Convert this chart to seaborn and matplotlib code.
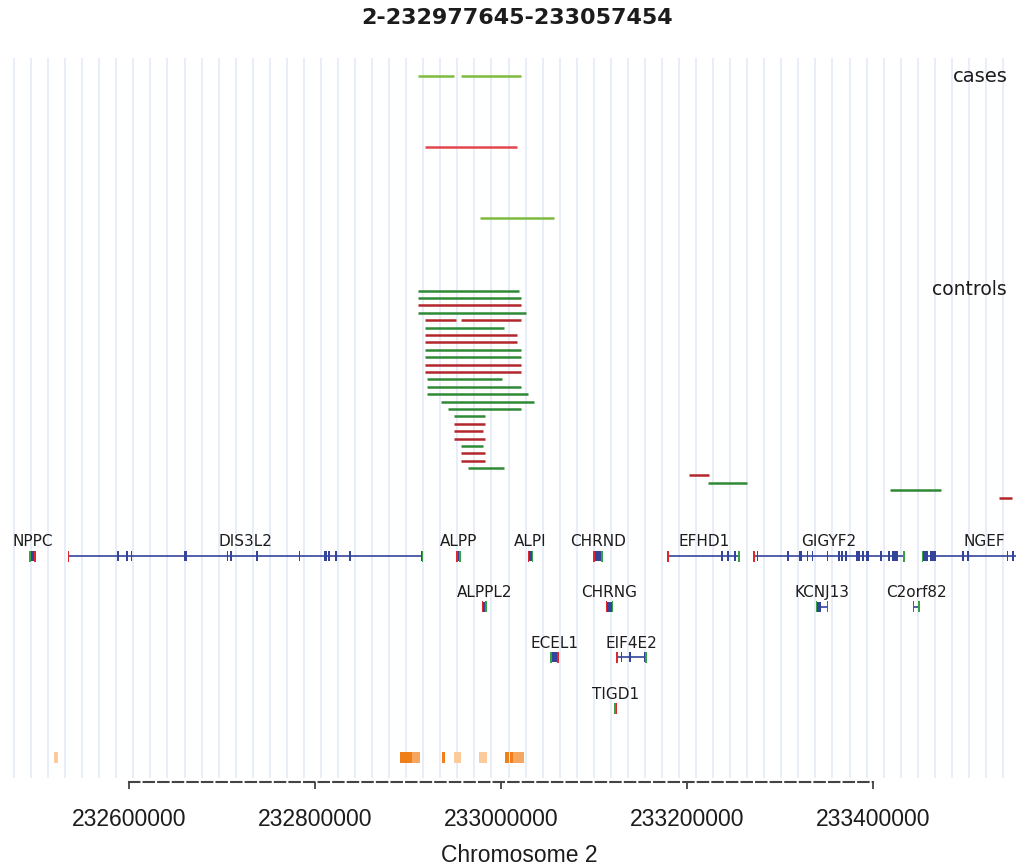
import numpy as np
import pandas as pd
import matplotlib
matplotlib.use("Agg")
import matplotlib.pyplot as plt
import seaborn as sns

# ---------------------------------------------------------------- data
REGION = "2-232977645-233057454"
CHROM_LABEL = "Chromosome 2"

# CNV calls in cases
CASE_ROW = [0, 0, 1, 2]
CASE_START = [232911000, 232957000, 232918300, 232977645]
CASE_END = [232949500, 233021200, 233017500, 233057454]
CASE_TYPE = ["dup", "dup", "del", "dup"]

# CNV calls in controls
CTRL_ROW = [0, 1, 2, 3, 4, 4, 5, 6, 7, 8, 9, 10, 11, 12, 13, 14, 15, 16, 17,
            18, 19, 20, 21, 22, 23, 24, 25, 26, 27, 28]
CTRL_START = [232911100, 232911100, 232911100, 232911100, 232918300, 232957000,
              232918300, 232918300, 232918300, 232918300, 232918300, 232918300,
              232918300, 232920100, 232920100, 232920100, 232935200, 232942700,
              232949800, 232949800, 232949800, 232949800, 232957000, 232957000,
              232957000, 232964200, 233202500, 233222900, 233418300, 233535800]
CTRL_END = [233019700, 233021500, 233021500, 233026900, 232951300, 233021500,
            233002900, 233017500, 233017500, 233021500, 233021500, 233021500,
            233021500, 233001100, 233021500, 233028700, 233035800, 233021500,
            232982800, 232982800, 232981000, 232982800, 232981000, 232982800,
            232982800, 233002900, 233224000, 233264800, 233472800, 233549100]
CTRL_TYPE = ["dup", "dup", "del", "dup", "del", "del", "dup", "del", "del",
             "dup", "dup", "del", "del", "dup", "dup", "dup", "dup", "dup",
             "dup", "del", "del", "del", "dup", "del", "del", "dup", "del",
             "dup", "dup", "del"]

# RefSeq genes: name, start, end, strand, track row, exons
GENE_NAME = ["NPPC", "DIS3L2", "ALPP", "ALPI", "CHRND", "EFHD1", "GIGYF2", "NGEF",
             "ALPPL2", "CHRNG", "KCNJ13", "C2orf82",
             "ECEL1", "EIF4E2",
             "TIGD1"]
GENE_START = [232492500, 232534100, 232951600, 233028700, 233098900, 233178800,
              233271300, 233452400,
              232979200, 233112600, 233338400, 233442700,
              233052700, 233123700,
              233121500]
GENE_END = [232500000, 232916500, 232956700, 233034700, 233109700, 233257000,
            233434400, 233588000,
            232984600, 233120800, 233351900, 233450500,
            233062400, 233156700,
            233125100]
GENE_STRAND = ["-", "+", "+", "+", "+", "+", "+", "-",
               "+", "+", "-", "+",
               "-", "+",
               "-"]
GENE_ROW = [0, 0, 0, 0, 0, 0, 0, 0,
            1, 1, 1, 1,
            2, 2,
            3]
GENE_EXONS = [
    [(232492500, 232500000)],
    [(232587400, 232588900), (232596800, 232598300), (232601800, 232603300),
     (232659500, 232662500), (232705100, 232706600), (232708600, 232710100),
     (232736600, 232738100), (232782500, 232784000), (232809800, 232812800),
     (232814300, 232815800), (232821500, 232823000), (232836600, 232838100),
     (232914500, 232916500)],
    [(232951600, 232956700)],
    [(233028700, 233034700)],
    [(233098900, 233109700)],
    [(233236600, 233238100), (233243300, 233244800), (233250500, 233252000),
     (233255500, 233257000)],
    [(233274900, 233276400), (233307900, 233309400), (233320000, 233323500),
     (233328700, 233330200), (233334100, 233335600), (233350200, 233351700),
     (233362400, 233363900), (233365600, 233367100), (233369900, 233371400),
     (233381700, 233383200), (233383900, 233385400), (233388200, 233389700),
     (233392000, 233396000), (233407500, 233409000), (233416100, 233417600),
     (233420500, 233426500), (233432300, 233434400)],
    [(233452400, 233454000), (233454000, 233459000), (233461000, 233467700),
     (233495700, 233497200), (233501100, 233502600), (233543800, 233545300),
     (233549500, 233551000)],
    [(232979200, 232984600)],
    [(233112600, 233120800)],
    [(233338400, 233344000), (233350400, 233351900)],
    [(233442700, 233444200), (233449000, 233450500)],
    [(233052700, 233062400)],
    [(233123700, 233125200), (233128600, 233130400), (233137900, 233139600),
     (233154200, 233156700)],
    [(233121500, 233125100)],
]

# Overlapping known-variant blocks (shade level 1 = light, 3 = dark)
OV_START = [232519800, 232891900, 232903800, 232936300, 232949400, 232975900,
            233004500, 233009200, 233012900]
OV_END = [232523500, 232903800, 232913000, 232940000, 232956700, 232984500,
          233008200, 233012900, 233024700]
OV_LEVEL = [1, 3, 2, 3, 1, 1, 3, 3, 2]

AXIS_TICKS = [232600000, 232800000, 233000000, 233200000, 233400000]

# ---------------------------------------------------------------- style
XMIN, XMAX = 232461290, 233553763
CASE_Y0, CASE_STEP = 76, 71
CTRL_Y0, CTRL_STEP = 290.7, 7.39
GENE_Y0, GENE_STEP = 556, 50.7
OV_Y, OV_H = 752, 11
AXIS_Y = 782
TICK_W = 1700

CASE_PAL = {"dup": "#7DBB3F", "del": "#E5464E"}
CTRL_PAL = {"dup": "#2E8A37", "del": "#B3272C"}
GENE_BLUE, GENE_RED, GENE_GREEN = "#34449B", "#E1262C", "#35A246"
OV_COL = {1: "#FBCB9C", 2: "#F6A65E", 3: "#F07F1A"}
GRID_COL = "#E7EEF8"
TXT = "#1C1C1C"

sns.set_theme(style="white")
plt.rcParams["font.family"] = ["DejaVu Sans"]
plt.rcParams["lines.solid_capstyle"] = "butt"
NARROW = ["Liberation Sans Narrow", "DejaVu Sans Condensed", "Liberation Sans"]

fig = plt.figure(figsize=(10.16, 8.65), dpi=100)
ax = fig.add_axes([0, 0, 1, 1])
ax.set_xlim(XMIN, XMAX)
ax.set_ylim(865, 0)
ax.set_facecolor("white")


def px_to_x(px):
    """Horizontal figure pixel -> genomic coordinate (for text anchoring)."""
    return XMIN + px / 1016 * (XMAX - XMIN)


# background stripes
ax.vlines(np.linspace(232476344, 233539786, 59), 58, 778,
          color=GRID_COL, lw=1.4, zorder=0)


def segments_frame(rows, starts, ends, types, y0, step):
    recs = []
    for i, (r, s, e, t) in enumerate(zip(rows, starts, ends, types)):
        y = y0 + r * step
        recs.append({"seg": i, "pos": s, "y": y, "type": t})
        recs.append({"seg": i, "pos": e, "y": y, "type": t})
    return pd.DataFrame(recs)


case_df = segments_frame(CASE_ROW, CASE_START, CASE_END, CASE_TYPE, CASE_Y0, CASE_STEP)
ctrl_df = segments_frame(CTRL_ROW, CTRL_START, CTRL_END, CTRL_TYPE, CTRL_Y0, CTRL_STEP)

sns.lineplot(data=case_df, x="pos", y="y", units="seg", estimator=None, hue="type",
             palette=CASE_PAL, sort=False, legend=False, linewidth=1.8, ax=ax)
sns.lineplot(data=ctrl_df, x="pos", y="y", units="seg", estimator=None, hue="type",
             palette=CTRL_PAL, sort=False, legend=False, linewidth=1.8, ax=ax)

ax.text(px_to_x(1008), CASE_Y0, "cases", ha="right",
        va="center", fontsize=14, color=TXT)
ax.text(px_to_x(1007), CTRL_Y0 - 1, "controls", ha="right",
        va="center", fontsize=13.5, color=TXT)

# gene models
for name, s, e, strand, row, exons in zip(GENE_NAME, GENE_START, GENE_END,
                                          GENE_STRAND, GENE_ROW, GENE_EXONS):
    y = GENE_Y0 + row * GENE_STEP
    ax.plot([s, e], [y, y], color=GENE_BLUE, lw=1.2, zorder=3)
    ex_s = [a for a, b in exons]
    ex_w = [max(b - a, TICK_W) for a, b in exons]
    ax.bar(ex_s, [10] * len(exons), width=ex_w, bottom=y - 5, align="edge",
           color=GENE_BLUE, lw=0, zorder=4)
    left_col, right_col = (GENE_RED, GENE_GREEN) if strand == "+" else (GENE_GREEN, GENE_RED)
    ax.bar([s, e - TICK_W], [11, 11], width=TICK_W, bottom=y - 5.5, align="edge",
           color=[left_col, right_col], lw=0, zorder=5)
    ax.text((s + e) / 2, y - 14, name, ha="center", va="center",
            fontsize=11, color=TXT, zorder=6)

# known-variant blocks
ax.bar(OV_START, [OV_H] * len(OV_START),
       width=[b - a for a, b in zip(OV_START, OV_END)], bottom=OV_Y,
       align="edge", color=[OV_COL[l] for l in OV_LEVEL], lw=0, zorder=2)

# genomic axis
for side in ["top", "left", "right"]:
    ax.spines[side].set_visible(False)
sp = ax.spines["bottom"]
sp.set_visible(True)
sp.set_position(("data", AXIS_Y))
sp.set_bounds(AXIS_TICKS[0], AXIS_TICKS[-1])
sp.set_linestyle((0, (5, 2)))
sp.set_color("#444444")
sp.set_linewidth(1.5)
ax.set_xticks(AXIS_TICKS)
ax.set_xticklabels([str(t) for t in AXIS_TICKS], family=NARROW, fontsize=16.5, color=TXT)
ax.tick_params(axis="x", direction="out", length=5, width=1.3, color="#444444",
               pad=14, bottom=True)
ax.set_yticks([])
ax.set_ylabel("")
ax.set_xlabel(CHROM_LABEL, family=NARROW, fontsize=16.5, color=TXT)
ax.xaxis.set_label_coords(519 / 1016, 1 - 855 / 865)
ax.xaxis.label.set_va("center")

ax.text(px_to_x(517), 18, REGION, ha="center", va="center",
        fontsize=16, fontweight="bold", color=TXT)

fig.savefig("out.png", dpi=100)
